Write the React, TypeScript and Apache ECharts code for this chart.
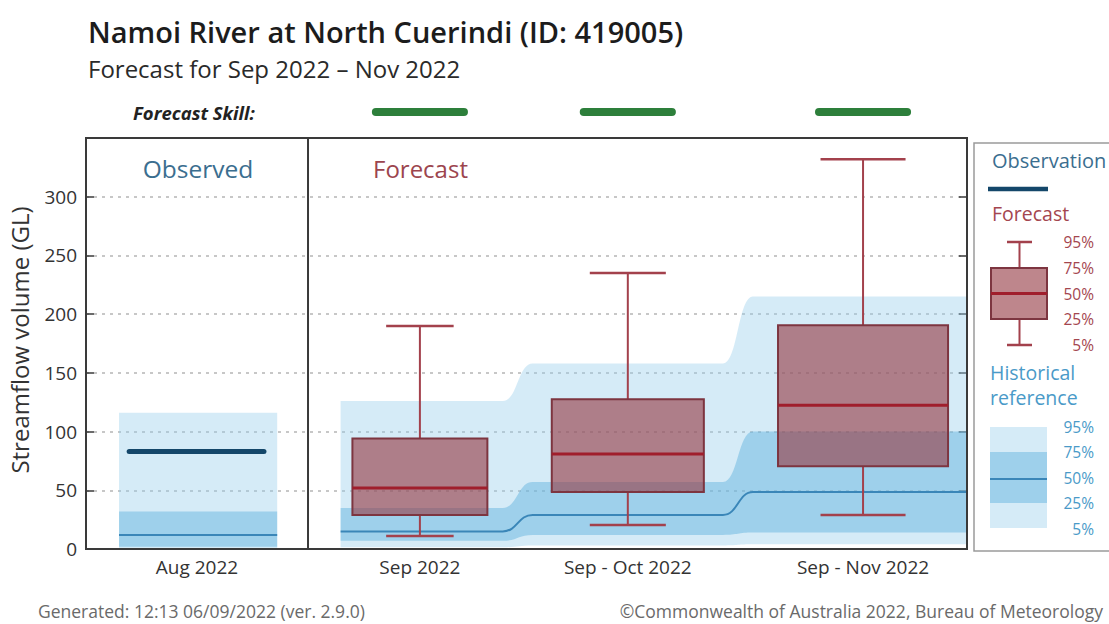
import { useEffect, useRef } from "react";
import * as echarts from "echarts";

// ---------------- data ----------------
const categories = ["Aug 2022", "Sep 2022", "Sep - Oct 2022", "Sep - Nov 2022"];
const observedValue = [83]; // Aug 2022 observation (GL)

// historical reference percentiles, one value per category
const histP5 = [0.3, 1.5, 3, 4];
const histP25 = [2, 7, 12, 14];
const histP50 = [12, 15, 29, 48.5];
const histP75 = [32, 35, 57, 100];
const histP95 = [116, 126, 158, 215];

// forecast percentiles for the three forecast periods
const fcP5 = [11, 20.5, 29];
const fcP25 = [29, 48.5, 70.5];
const fcP50 = [52, 81, 122.5];
const fcP75 = [94, 127.5, 190.5];
const fcP95 = [190, 235, 332];

const forecastSkill = ["high", "high", "high"];
const skillColors: Record<string, string> = { high: "#2d7f3b", moderate: "#f0b400", low: "#d9534f" };

const legendForecastPct = ["95%", "75%", "50%", "25%", "5%"];
const legendHistPct = ["95%", "75%", "50%", "25%", "5%"];

// ---------------- layout (x domain 0..100 across the plot) ----------------
const X_CENTER = [12.6, 37.9, 61.5, 88.2];
const BOX_HALF = [7.66, 8.63, 9.65];
const DIVIDER_X = 25.2;
const OBS_BAND = [3.75, 21.7];
const OBS_LINE = [4.9, 20.2];
const FC_SEGS = [
  [28.9, 47.3],
  [50.7, 72.3],
  [75.7, 100],
];
const SKILL_HALF = 5.0;

const FONT = "'Open Sans', 'Noto Sans', sans-serif";
const LIGHT = "rgba(150, 205, 235, 0.40)";
const DARK = "rgba(90, 175, 220, 0.45)";
const MED = "#3a86b8";
const BOX_FILL = "rgba(150, 60, 70, 0.62)";
const BOX_EDGE = "#7d3540";
const BOX_MED = "#a01e2c";
const WHISKER = "#a3414c";
const OBS_COLOR = "#14476a";
const FC_TEXT = "#a4464f";
const HIST_TEXT = "#4a9ac8";
const FRAME = "#3a3a3a";

function bandsRender(params: any, api: any) {
  const c = (x: number, y: number) => api.coord([x, y]);
  const i = params.dataIndex;
  if (i === 0) {
    const [x0, x1] = OBS_BAND;
    const rect = (lo: number, hi: number, fill: string) => {
      const a = c(x0, hi);
      const b = c(x1, lo);
      return { type: "rect", shape: { x: a[0], y: a[1], width: b[0] - a[0], height: b[1] - a[1] }, style: { fill } };
    };
    const m0 = c(x0, histP50[0]);
    const m1 = c(x1, histP50[0]);
    return {
      type: "group",
      children: [
        rect(histP5[0], histP95[0], LIGHT),
        rect(histP25[0], histP75[0], DARK),
        { type: "line", shape: { x1: m0[0], y1: m0[1], x2: m1[0], y2: m1[1] }, style: { stroke: MED, lineWidth: 2 } },
      ],
    };
  }
  if (i === 1) {
    const edge = (vals: number[]) => {
      let d = "";
      FC_SEGS.forEach(([xs, xe], k) => {
        const a = c(xs, vals[k]);
        const b = c(xe, vals[k]);
        if (k === 0) d += `M${a[0]},${a[1]}`;
        else {
          const p = c(FC_SEGS[k - 1][1], vals[k - 1]);
          const mx = (p[0] + a[0]) / 2;
          d += `C${mx},${p[1]} ${mx},${a[1]} ${a[0]},${a[1]}`;
        }
        d += `L${b[0]},${b[1]}`;
      });
      return d;
    };
    const edgeRev = (vals: number[]) => {
      let d = "";
      for (let k = FC_SEGS.length - 1; k >= 0; k--) {
        const [xs, xe] = FC_SEGS[k];
        const a = c(xe, vals[k]);
        const b = c(xs, vals[k]);
        if (k === FC_SEGS.length - 1) d += `L${a[0]},${a[1]}`;
        else {
          const p = c(FC_SEGS[k + 1][0], vals[k + 1]);
          const mx = (p[0] + a[0]) / 2;
          d += `C${mx},${p[1]} ${mx},${a[1]} ${a[0]},${a[1]}`;
        }
        d += `L${b[0]},${b[1]}`;
      }
      return d + "Z";
    };
    const p5 = histP5.slice(1);
    const p25 = histP25.slice(1);
    const p50 = histP50.slice(1);
    const p75 = histP75.slice(1);
    const p95 = histP95.slice(1);
    return {
      type: "group",
      children: [
        { type: "path", shape: { pathData: edge(p95) + edgeRev(p5) }, style: { fill: LIGHT } },
        { type: "path", shape: { pathData: edge(p75) + edgeRev(p25) }, style: { fill: DARK } },
        { type: "path", shape: { pathData: edge(p50) }, style: { fill: "none", stroke: MED, lineWidth: 2 } },
      ],
    };
  }
  return { type: "group", children: [] };
}

function obsRender(params: any, api: any) {
  const c = (x: number, y: number) => api.coord([x, y]);
  const v = api.value(1);
  const a = c(OBS_LINE[0], v);
  const b = c(OBS_LINE[1], v);
  const d0 = c(DIVIDER_X, 0);
  const d1 = c(DIVIDER_X, 350);
  // full plot frame from the axis extents
  const f0 = c(0, 350);
  const f1 = c(100, 0);
  return {
    type: "group",
    children: [
      { type: "line", shape: { x1: a[0], y1: a[1], x2: b[0], y2: b[1] }, style: { stroke: OBS_COLOR, lineWidth: 5, lineCap: "round" } },
      { type: "line", shape: { x1: d0[0], y1: d0[1], x2: d1[0], y2: d1[1] }, style: { stroke: FRAME, lineWidth: 2 } },
      {
        type: "rect",
        shape: { x: f0[0], y: f0[1], width: f1[0] - f0[0], height: f1[1] - f0[1] },
        style: { fill: "none", stroke: FRAME, lineWidth: 2 },
      },
    ],
  };
}

function boxRender(params: any, api: any) {
  const c = (x: number, y: number) => api.coord([x, y]);
  const i = params.dataIndex;
  const x = api.value(0);
  const p5 = api.value(1);
  const p25 = api.value(2);
  const p50 = api.value(3);
  const p75 = api.value(4);
  const p95 = api.value(5);
  const hw = BOX_HALF[i];
  const line = (xa: number, ya: number, xb: number, yb: number, stroke: string, lw: number) => {
    const a = c(xa, ya);
    const b = c(xb, yb);
    return { type: "line", shape: { x1: a[0], y1: a[1], x2: b[0], y2: b[1] }, style: { stroke, lineWidth: lw } };
  };
  const tl = c(x - hw, p75);
  const br = c(x + hw, p25);
  const s0 = c(x - SKILL_HALF, 350);
  const s1 = c(x + SKILL_HALF, 350);
  return {
    type: "group",
    children: [
      line(x, p95, x, p75, WHISKER, 2),
      line(x, p25, x, p5, WHISKER, 2),
      line(x - hw / 2, p95, x + hw / 2, p95, WHISKER, 2.5),
      line(x - hw / 2, p5, x + hw / 2, p5, WHISKER, 2.5),
      {
        type: "rect",
        shape: { x: tl[0], y: tl[1], width: br[0] - tl[0], height: br[1] - tl[1] },
        style: { fill: BOX_FILL, stroke: BOX_EDGE, lineWidth: 2 },
      },
      line(x - hw, p50, x + hw, p50, BOX_MED, 3),
      {
        type: "line",
        shape: { x1: s0[0], y1: s0[1] - 26, x2: s1[0], y2: s1[1] - 26 },
        style: { stroke: skillColors[forecastSkill[i]], lineWidth: 8, lineCap: "round" },
      },
    ],
  };
}

function legendGraphics() {
  const els: any[] = [];
  els.push({ type: "rect", shape: { x: 974, y: 143, width: 150, height: 408 }, style: { fill: "#fff", stroke: "#9a9a9a", lineWidth: 1.5 }, z: 1 });
  const txt = (text: string, x: number, y: number, color: string, size: number, align = "left") => ({
    type: "text",
    x,
    y,
    z: 2,
    style: { text, fill: color, font: `${size}px ${FONT}`, textAlign: align, textVerticalAlign: "middle" },
  });
  const ln = (x1: number, y1: number, x2: number, y2: number, stroke: string, lw: number) => ({
    type: "line",
    z: 2,
    shape: { x1, y1, x2, y2 },
    style: { stroke, lineWidth: lw },
  });
  els.push(txt("Observation", 992, 160, "#3b6e8f", 20));
  els.push(ln(988, 189, 1048, 189, OBS_COLOR, 4.5));
  els.push(txt("Forecast", 992, 213, FC_TEXT, 19.5));
  // box legend
  els.push(ln(1007, 242, 1032, 242, WHISKER, 2.5));
  els.push(ln(1019.5, 242, 1019.5, 268, WHISKER, 2));
  els.push(ln(1019.5, 319, 1019.5, 345, WHISKER, 2));
  els.push(ln(1007, 345, 1032, 345, WHISKER, 2.5));
  els.push({ type: "rect", z: 2, shape: { x: 991, y: 268, width: 56, height: 51 }, style: { fill: BOX_FILL, stroke: BOX_EDGE, lineWidth: 2 } });
  els.push(ln(991, 293.5, 1047, 293.5, BOX_MED, 3));
  const fy = [242, 268, 294, 319, 345];
  legendForecastPct.forEach((t, k) => els.push(txt(t, 1094, fy[k], FC_TEXT, 15.5, "right")));
  els.push(txt("Historical", 990, 372, HIST_TEXT, 19.5));
  els.push(txt("reference", 990, 397, HIST_TEXT, 19.5));
  els.push({ type: "rect", z: 2, shape: { x: 990, y: 427, width: 57, height: 101 }, style: { fill: LIGHT } });
  els.push({ type: "rect", z: 2, shape: { x: 990, y: 452, width: 57, height: 51 }, style: { fill: DARK } });
  els.push(ln(990, 479, 1047, 479, MED, 2));
  const hy = [427, 452, 478, 503, 529];
  legendHistPct.forEach((t, k) => els.push(txt(t, 1094, hy[k], HIST_TEXT, 15.5, "right")));
  return els;
}

export default function App() {
  const ref = useRef<HTMLDivElement>(null);
  useEffect(() => {
    document.body.style.margin = "0";
    const chart = echarts.init(ref.current as HTMLDivElement, null, { renderer: "svg" });
    const nearestCat = (v: number) => {
      let best = 0;
      X_CENTER.forEach((cx, k) => {
        if (Math.abs(cx - v) < Math.abs(X_CENTER[best] - v)) best = k;
      });
      return categories[best];
    };
    const option: any = {
      animation: false,
      backgroundColor: "#ffffff",
      textStyle: { fontFamily: FONT },
      grid: { left: 86, right: 142, top: 138, bottom: 75, show: false },
      xAxis: {
        type: "value",
        min: 0,
        max: 100,
        axisLine: { show: false },
        axisTick: { show: false },
        splitLine: { show: false },
        axisLabel: {
          customValues: X_CENTER,
          formatter: (v: number) => nearestCat(v),
          fontSize: 19,
          color: "#333",
          margin: 8,
          fontFamily: FONT,
        },
      },
      yAxis: [
        {
          type: "value",
          min: 0,
          max: 350,
          interval: 50,
          axisLine: { show: false },
          axisTick: { show: true, inside: true, length: 8, lineStyle: { color: FRAME, width: 1.5 } },
          axisLabel: { showMaxLabel: false, fontSize: 19, color: "#333", margin: 9, fontFamily: FONT },
          splitLine: { show: true, lineStyle: { color: "#b5b5b5", type: [3, 5], width: 1.5 } },
        },
        {
          type: "value",
          position: "right",
          min: 0,
          max: 350,
          interval: 50,
          axisLine: { show: false },
          axisTick: { show: true, inside: true, length: 8, lineStyle: { color: FRAME, width: 1.5 } },
          axisLabel: { show: false },
          splitLine: { show: false },
        },
      ],
      series: [
        {
          type: "custom",
          name: "Historical reference",
          z: 1,
          clip: false,
          renderItem: bandsRender,
          data: categories.map((_, k) => [X_CENTER[k], histP5[k], histP25[k], histP50[k], histP75[k], histP95[k]]),
        },
        {
          type: "custom",
          name: "Observation",
          z: 3,
          clip: false,
          renderItem: obsRender,
          data: observedValue.map((v, k) => [X_CENTER[k], v]),
        },
        {
          type: "custom",
          name: "Forecast",
          z: 4,
          clip: false,
          renderItem: boxRender,
          data: fcP50.map((_, k) => [X_CENTER[k + 1], fcP5[k], fcP25[k], fcP50[k], fcP75[k], fcP95[k]]),
        },
      ],
      graphic: [
        { type: "text", x: 88, y: 31, style: { text: "Namoi River at North Cuerindi (ID: 419005)", fill: "#1c1c1c", font: `600 29px ${FONT}`, textVerticalAlign: "middle" } },
        { type: "text", x: 88, y: 68, style: { text: "Forecast for Sep 2022 \u2013 Nov 2022", fill: "#2a2a2a", font: `24px ${FONT}`, textVerticalAlign: "middle" } },
        { type: "text", x: 133, y: 112, style: { text: "Forecast Skill:", fill: "#222", font: `italic bold 18.5px ${FONT}`, textVerticalAlign: "middle" } },
        { type: "text", x: 198, y: 168, style: { text: "Observed", fill: "#3b6e8f", font: `24.5px ${FONT}`, textAlign: "center", textVerticalAlign: "middle" } },
        { type: "text", x: 373, y: 168, style: { text: "Forecast", fill: "#9c454e", font: `24px ${FONT}`, textVerticalAlign: "middle" } },
        { type: "text", x: 19, y: 340, rotation: Math.PI / 2, style: { text: "Streamflow volume (GL)", fill: "#333", font: `24px ${FONT}`, textAlign: "center", textVerticalAlign: "middle" } },
        { type: "text", x: 38, y: 611, style: { text: "Generated: 12:13 06/09/2022 (ver. 2.9.0)", fill: "#6a6a6a", font: `17.5px ${FONT}`, textVerticalAlign: "middle" } },
        { type: "text", x: 1103, y: 611, style: { text: "\u00a9Commonwealth of Australia 2022, Bureau of Meteorology", fill: "#6a6a6a", font: `17.5px ${FONT}`, textAlign: "right", textVerticalAlign: "middle" } },
        ...legendGraphics(),
      ],
    };
    chart.setOption(option);
    return () => chart.dispose();
  }, []);
  return <div ref={ref} style={{ width: 1109, height: 624 }} />;
}
